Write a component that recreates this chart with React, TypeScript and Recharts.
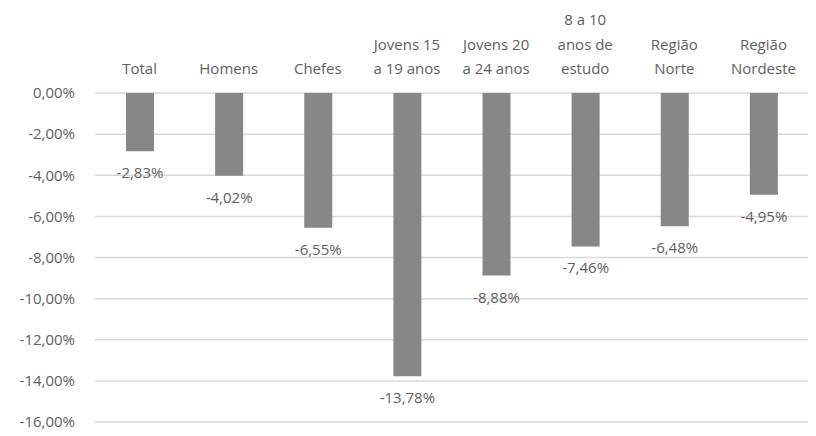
import { BarChart, Bar, XAxis, YAxis, CartesianGrid, LabelList } from 'recharts';

// categories (each one split into its printed lines)
const categories = [
  ['Total'],
  ['Homens'],
  ['Chefes'],
  ['Jovens 15', 'a 19 anos'],
  ['Jovens 20', 'a 24 anos'],
  ['8 a 10', 'anos de', 'estudo'],
  ['Região', 'Norte'],
  ['Região', 'Nordeste'],
];
const values = [-2.83, -4.02, -6.55, -13.78, -8.88, -7.46, -6.48, -4.95];
const yTicks = [0, -2, -4, -6, -8, -10, -12, -14, -16];

const data = categories.map((lines, i) => ({ name: lines.join('\n'), value: values[i] }));

const FONT = '"Open Sans", sans-serif';
const TEXT = '#5f5f5f';

const fmt = (v: number) => v.toFixed(2).replace('.', ',') + '%';

const CategoryTick = ({ x, y, payload }: any) => {
  const lines = String(payload.value).split('\n');
  const n = lines.length;
  return (
    <text x={x} y={y} textAnchor="middle" fill={TEXT} fontSize={15} fontFamily={FONT}>
      {lines.map((l, i) => (
        <tspan key={i} x={x} y={y - 19 - (n - 1 - i) * 24.5}>
          {l}
        </tspan>
      ))}
    </text>
  );
};

const ValueLabel = ({ x, y, width, height, value }: any) => {
  const end = Math.max(y, y + height);
  return (
    <text x={x + width / 2} y={end + 21} textAnchor="middle" dominantBaseline="central" fill={TEXT} fontSize={15} fontFamily={FONT}>
      {fmt(value)}
    </text>
  );
};

export default function App() {
  return (
    <div style={{ position: 'absolute', left: 0, top: 0, width: 816, height: 436, background: '#fff' }}>
      <BarChart width={816} height={436} data={data} margin={{ top: 0, right: 8, left: 5, bottom: 14 }}>
        <CartesianGrid vertical={false} stroke="#dadada" strokeWidth={1.5} />
        <XAxis
          dataKey="name"
          orientation="top"
          height={93}
          axisLine={false}
          tickLine={false}
          tickSize={0}
          tickMargin={0}
          interval={0}
          tick={<CategoryTick />}
        />
        <YAxis
          domain={[-16, 0]}
          ticks={yTicks}
          width={90}
          axisLine={false}
          tickLine={false}
          tickSize={0}
          tickMargin={20}
          tickFormatter={fmt}
          tick={{ fill: TEXT, fontSize: 15, fontFamily: FONT }}
        />
        <Bar dataKey="value" fill="#878787" barSize={28} isAnimationActive={false}>
          <LabelList dataKey="value" content={<ValueLabel />} />
        </Bar>
      </BarChart>
    </div>
  );
}
